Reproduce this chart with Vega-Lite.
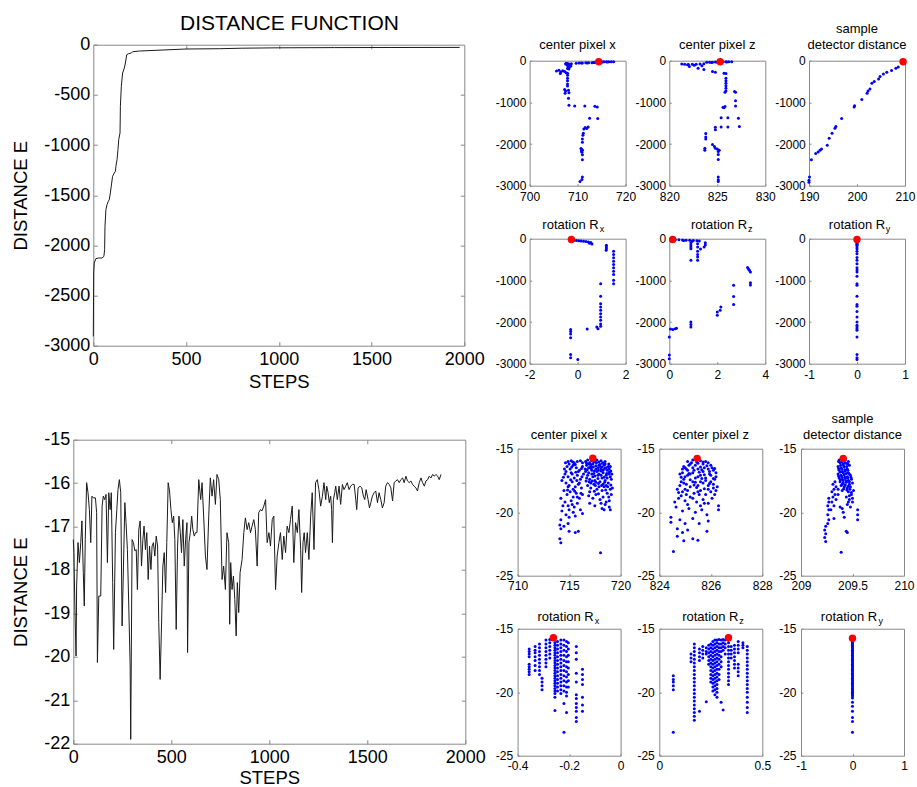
{
"$schema": "https://vega.github.io/schema/vega-lite/v6.json",
"background": "white",
"padding": {"left": 9.3, "top": 11.7, "right": 2, "bottom": 0},
"concat": [
 {
  "concat": [
   {"width": 1, "height": 1, "view": {"stroke": null}, "data": {"values": []}, "mark": "point", "encoding": {}},
   {
    "width": 371, "height": 301,
    "title": {"text": "DISTANCE FUNCTION", "fontSize": 21, "offset": 1.6, "dx": 10.7},
    "data": {"name": "curve1"},
    "resolve": {"axis": {"x": "independent", "y": "independent"}},
    "layer": [
     {"mark": {"type": "line", "color": "#1a1a1a", "strokeWidth": 1},
      "encoding": {
       "x": {"field": "s", "type": "quantitative", "scale": {"domain": [0, 2000], "nice": false, "zero": false},
         "axis": {"orient": "bottom", "title": "STEPS", "values": [0, 500, 1000, 1500, 2000], "labelExpr": "toString(datum.value)", "labelFontSize": 18, "titleFontSize": 18.5, "tickSize": -4, "labelPadding": 9, "titlePadding": 4}},
       "y": {"field": "e", "type": "quantitative", "scale": {"domain": [-3000, 0], "nice": false, "zero": false},
         "axis": {"orient": "left", "title": "DISTANCE E", "values": [-3000, -2500, -2000, -1500, -1000, -500, 0], "labelExpr": "toString(datum.value)", "labelFontSize": 18, "titleFontSize": 18.5, "tickSize": -4, "labelPadding": 7.5, "titlePadding": 13.5}}
      }},
     {"mark": {"type": "line", "opacity": 0},
      "encoding": {
       "x": {"field": "s", "type": "quantitative", "axis": {"orient": "top", "labels": false, "title": null, "values": [500, 1000, 1500], "tickSize": -4}},
       "y": {"field": "e", "type": "quantitative", "axis": {"orient": "right", "labels": false, "title": null, "values": [-2500, -2000, -1500, -1000, -500], "tickSize": -4}}
      }}
    ]
   },
   {"width": 1, "height": 1, "view": {"stroke": null}, "data": {"values": []}, "mark": "point", "encoding": {}},
   {
    "width": 392, "height": 304,
    "data": {"name": "curve2"},
    "resolve": {"axis": {"x": "independent", "y": "independent"}},
    "layer": [
     {"mark": {"type": "line", "color": "#1a1a1a", "strokeWidth": 1},
      "encoding": {
       "x": {"field": "s", "type": "quantitative", "scale": {"domain": [0, 2000], "nice": false, "zero": false},
         "axis": {"orient": "bottom", "title": "STEPS", "values": [0, 500, 1000, 1500, 2000], "labelExpr": "toString(datum.value)", "labelFontSize": 18, "titleFontSize": 18.5, "tickSize": -4, "labelPadding": 9, "titlePadding": 2}},
       "y": {"field": "e", "type": "quantitative", "scale": {"domain": [-22, -15], "nice": false, "zero": false},
         "axis": {"orient": "left", "title": "DISTANCE E", "values": [-22, -21, -20, -19, -18, -17, -16, -15], "labelExpr": "toString(datum.value)", "labelFontSize": 18, "titleFontSize": 18.5, "tickSize": -4, "labelPadding": 7.5, "titlePadding": 13.5}}
      }},
     {"mark": {"type": "line", "opacity": 0},
      "encoding": {
       "x": {"field": "s", "type": "quantitative", "axis": {"orient": "top", "labels": false, "title": null, "values": [500, 1000, 1500], "tickSize": -4}},
       "y": {"field": "e", "type": "quantitative", "axis": {"orient": "right", "labels": false, "title": null, "values": [-21, -20, -19, -18, -17, -16], "tickSize": -4}}
      }}
    ]
   }
  ],
  "columns": 2, "align": "none", "spacing": {"row": 38, "column": 0}
 },
 {
  "concat": [
   {"width": 1, "height": 1, "view": {"stroke": null}, "data": {"values": []}, "mark": "point", "encoding": {}},
   {
    "vconcat": [
     {
      "hconcat": [
       {"width": 96, "height": 125, "title": {"text": "center pixel x", "offset": 3},
        "layer": [
         {"data": {"name": "T1"}, "mark": {"type": "circle", "size": 9, "color": "#0000ff", "opacity": 1},
          "encoding": {
           "x": {"field": "x", "type": "quantitative", "scale": {"domain": [700, 720], "nice": false, "zero": false}, "axis": {"title": null, "values": [700, 710, 720], "labelExpr": "toString(datum.value)", "labelFontSize": 12, "tickSize": -2, "labelPadding": 7.4}},
           "y": {"field": "y", "type": "quantitative", "scale": {"domain": [-3000, 0], "nice": false, "zero": false}, "axis": {"title": null, "values": [-3000, -2000, -1000, 0], "labelExpr": "toString(datum.value)", "labelFontSize": 12, "tickSize": -2, "labelPadding": 5.7}}}},
         {"data": {"name": "best"}, "transform": [{"filter": "datum.p == 'T1'"}], "mark": {"type": "circle", "size": 55, "color": "#ff0000", "opacity": 1},
          "encoding": {"x": {"field": "x", "type": "quantitative"}, "y": {"field": "y", "type": "quantitative"}}}
        ]},
       {"width": 96, "height": 125, "title": {"text": "center pixel z", "offset": 3},
        "layer": [
         {"data": {"name": "T2"}, "mark": {"type": "circle", "size": 9, "color": "#0000ff", "opacity": 1},
          "encoding": {
           "x": {"field": "x", "type": "quantitative", "scale": {"domain": [820, 830], "nice": false, "zero": false}, "axis": {"title": null, "values": [820, 825, 830], "labelExpr": "toString(datum.value)", "labelFontSize": 12, "tickSize": -2, "labelPadding": 7.4}},
           "y": {"field": "y", "type": "quantitative", "scale": {"domain": [-3000, 0], "nice": false, "zero": false}, "axis": {"title": null, "values": [-3000, -2000, -1000, 0], "labelExpr": "toString(datum.value)", "labelFontSize": 12, "tickSize": -2, "labelPadding": 5.7}}}},
         {"data": {"name": "best"}, "transform": [{"filter": "datum.p == 'T2'"}], "mark": {"type": "circle", "size": 55, "color": "#ff0000", "opacity": 1},
          "encoding": {"x": {"field": "x", "type": "quantitative"}, "y": {"field": "y", "type": "quantitative"}}}
        ]},
       {"width": 96, "height": 125, "title": {"text": ["sample", "detector distance"], "offset": 3, "lineHeight": 16},
        "layer": [
         {"data": {"name": "T3"}, "mark": {"type": "circle", "size": 9, "color": "#0000ff", "opacity": 1},
          "encoding": {
           "x": {"field": "x", "type": "quantitative", "scale": {"domain": [190, 210], "nice": false, "zero": false}, "axis": {"title": null, "values": [190, 200, 210], "labelExpr": "toString(datum.value)", "labelFontSize": 12, "tickSize": -2, "labelPadding": 7.4}},
           "y": {"field": "y", "type": "quantitative", "scale": {"domain": [-3000, 0], "nice": false, "zero": false}, "axis": {"title": null, "values": [-3000, -2000, -1000, 0], "labelExpr": "toString(datum.value)", "labelFontSize": 12, "tickSize": -2, "labelPadding": 5.7}}}},
         {"data": {"name": "best"}, "transform": [{"filter": "datum.p == 'T3'"}], "mark": {"type": "circle", "size": 55, "color": "#ff0000", "opacity": 1},
          "encoding": {"x": {"field": "x", "type": "quantitative"}, "y": {"field": "y", "type": "quantitative"}}}
        ]}
      ],
      "spacing": 43.7, "bounds": "flush"
     },
     {
      "hconcat": [
       {"width": 96, "height": 125, "title": {"text": "rotation R", "offset": -7, "dx": -7.1},
        "layer": [
         {"data": {"name": "T4"}, "mark": {"type": "circle", "size": 9, "color": "#0000ff", "opacity": 1},
          "encoding": {
           "x": {"field": "x", "type": "quantitative", "scale": {"domain": [-2, 2], "nice": false, "zero": false}, "axis": {"title": null, "values": [-2, 0, 2], "labelExpr": "toString(datum.value)", "labelFontSize": 12, "tickSize": -2, "labelPadding": 7.4}},
           "y": {"field": "y", "type": "quantitative", "scale": {"domain": [-3000, 0], "nice": false, "zero": false}, "axis": {"title": "x", "titleFontSize": 9, "titleFontWeight": "normal", "titleAngle": 0, "titleAlign": "left", "titleBaseline": "alphabetic", "titleX": 69.6, "titleY": -7, "values": [-3000, -2000, -1000, 0], "labelExpr": "toString(datum.value)", "labelFontSize": 12, "tickSize": -2, "labelPadding": 5.7}}}},
         {"data": {"name": "best"}, "transform": [{"filter": "datum.p == 'T4'"}], "mark": {"type": "circle", "size": 55, "color": "#ff0000", "opacity": 1},
          "encoding": {"x": {"field": "x", "type": "quantitative"}, "y": {"field": "y", "type": "quantitative"}}}
        ]},
       {"width": 96, "height": 125, "title": {"text": "rotation R", "offset": -7, "dx": 1.8},
        "layer": [
         {"data": {"name": "T5"}, "mark": {"type": "circle", "size": 9, "color": "#0000ff", "opacity": 1},
          "encoding": {
           "x": {"field": "x", "type": "quantitative", "scale": {"domain": [0, 4], "nice": false, "zero": false}, "axis": {"title": null, "values": [0, 2, 4], "labelExpr": "toString(datum.value)", "labelFontSize": 12, "tickSize": -2, "labelPadding": 7.4}},
           "y": {"field": "y", "type": "quantitative", "scale": {"domain": [-3000, 0], "nice": false, "zero": false}, "axis": {"title": "z", "titleFontSize": 9, "titleFontWeight": "normal", "titleAngle": 0, "titleAlign": "left", "titleBaseline": "alphabetic", "titleX": 78.3, "titleY": -7, "values": [-3000, -2000, -1000, 0], "labelExpr": "toString(datum.value)", "labelFontSize": 12, "tickSize": -2, "labelPadding": 5.7}}}},
         {"data": {"name": "best"}, "transform": [{"filter": "datum.p == 'T5'"}], "mark": {"type": "circle", "size": 55, "color": "#ff0000", "opacity": 1},
          "encoding": {"x": {"field": "x", "type": "quantitative"}, "y": {"field": "y", "type": "quantitative"}}}
        ]},
       {"width": 96, "height": 125, "title": {"text": "rotation R", "offset": -7, "dx": 0},
        "layer": [
         {"data": {"name": "T6"}, "mark": {"type": "circle", "size": 9, "color": "#0000ff", "opacity": 1},
          "encoding": {
           "x": {"field": "x", "type": "quantitative", "scale": {"domain": [-1, 1], "nice": false, "zero": false}, "axis": {"title": null, "values": [-1, 0, 1], "labelExpr": "toString(datum.value)", "labelFontSize": 12, "tickSize": -2, "labelPadding": 7.4}},
           "y": {"field": "y", "type": "quantitative", "scale": {"domain": [-3000, 0], "nice": false, "zero": false}, "axis": {"title": "y", "titleFontSize": 9, "titleFontWeight": "normal", "titleAngle": 0, "titleAlign": "left", "titleBaseline": "alphabetic", "titleX": 76.2, "titleY": -7, "values": [-3000, -2000, -1000, 0], "labelExpr": "toString(datum.value)", "labelFontSize": 12, "tickSize": -2, "labelPadding": 5.7}}}},
         {"data": {"name": "best"}, "transform": [{"filter": "datum.p == 'T6'"}], "mark": {"type": "circle", "size": 55, "color": "#ff0000", "opacity": 1},
          "encoding": {"x": {"field": "x", "type": "quantitative"}, "y": {"field": "y", "type": "quantitative"}}}
        ]}
      ],
      "spacing": 43.7, "bounds": "flush"
     }
    ],
    "spacing": 15
   },
   {"width": 1, "height": 1, "view": {"stroke": null}, "data": {"values": []}, "mark": "point", "encoding": {}},
   {
    "vconcat": [
     {
      "hconcat": [
       {"width": 103, "height": 127, "title": {"text": "center pixel x", "offset": 1},
        "layer": [
         {"data": {"name": "B1"}, "mark": {"type": "circle", "size": 9, "color": "#0000ff", "opacity": 1},
          "encoding": {
           "x": {"field": "x", "type": "quantitative", "scale": {"domain": [710, 720], "nice": false, "zero": false}, "axis": {"title": null, "values": [710, 715, 720], "labelExpr": "toString(datum.value)", "labelFontSize": 12, "tickSize": -2, "labelPadding": 6.5}},
           "y": {"field": "y", "type": "quantitative", "scale": {"domain": [-25, -15], "nice": false, "zero": false}, "axis": {"title": null, "values": [-25, -20, -15], "labelExpr": "toString(datum.value)", "labelFontSize": 12, "tickSize": -2, "labelPadding": 7}}}},
         {"data": {"name": "best"}, "transform": [{"filter": "datum.p == 'B1'"}], "mark": {"type": "circle", "size": 55, "color": "#ff0000", "opacity": 1},
          "encoding": {"x": {"field": "x", "type": "quantitative"}, "y": {"field": "y", "type": "quantitative"}}}
        ]},
       {"width": 103, "height": 127, "title": {"text": "center pixel z", "offset": 1},
        "layer": [
         {"data": {"name": "B2"}, "mark": {"type": "circle", "size": 9, "color": "#0000ff", "opacity": 1},
          "encoding": {
           "x": {"field": "x", "type": "quantitative", "scale": {"domain": [824, 828], "nice": false, "zero": false}, "axis": {"title": null, "values": [824, 826, 828], "labelExpr": "toString(datum.value)", "labelFontSize": 12, "tickSize": -2, "labelPadding": 6.5}},
           "y": {"field": "y", "type": "quantitative", "scale": {"domain": [-25, -15], "nice": false, "zero": false}, "axis": {"title": null, "values": [-25, -20, -15], "labelExpr": "toString(datum.value)", "labelFontSize": 12, "tickSize": -2, "labelPadding": 7}}}},
         {"data": {"name": "best"}, "transform": [{"filter": "datum.p == 'B2'"}], "mark": {"type": "circle", "size": 55, "color": "#ff0000", "opacity": 1},
          "encoding": {"x": {"field": "x", "type": "quantitative"}, "y": {"field": "y", "type": "quantitative"}}}
        ]},
       {"width": 103, "height": 127, "title": {"text": ["sample", "detector distance"], "offset": 1, "lineHeight": 16},
        "layer": [
         {"data": {"name": "B3"}, "mark": {"type": "circle", "size": 9, "color": "#0000ff", "opacity": 1},
          "encoding": {
           "x": {"field": "x", "type": "quantitative", "scale": {"domain": [209, 210], "nice": false, "zero": false}, "axis": {"title": null, "values": [209, 209.5, 210], "labelExpr": "toString(datum.value)", "labelFontSize": 12, "tickSize": -2, "labelPadding": 6.5}},
           "y": {"field": "y", "type": "quantitative", "scale": {"domain": [-25, -15], "nice": false, "zero": false}, "axis": {"title": null, "values": [-25, -20, -15], "labelExpr": "toString(datum.value)", "labelFontSize": 12, "tickSize": -2, "labelPadding": 7}}}},
         {"data": {"name": "best"}, "transform": [{"filter": "datum.p == 'B3'"}], "mark": {"type": "circle", "size": 55, "color": "#ff0000", "opacity": 1},
          "encoding": {"x": {"field": "x", "type": "quantitative"}, "y": {"field": "y", "type": "quantitative"}}}
        ]}
      ],
      "spacing": 38.7, "bounds": "flush"
     },
     {
      "hconcat": [
       {"width": 103, "height": 127, "title": {"text": "rotation R", "offset": -7.3, "dx": -3.5},
        "layer": [
         {"data": {"name": "B4"}, "mark": {"type": "circle", "size": 9, "color": "#0000ff", "opacity": 1},
          "encoding": {
           "x": {"field": "x", "type": "quantitative", "scale": {"domain": [-0.4, 0], "nice": false, "zero": false}, "axis": {"title": null, "values": [-0.4, -0.2, 0], "labelExpr": "toString(datum.value)", "labelFontSize": 12, "tickSize": -2, "labelPadding": 6.5}},
           "y": {"field": "y", "type": "quantitative", "scale": {"domain": [-25, -15], "nice": false, "zero": false}, "axis": {"title": "x", "titleFontSize": 9, "titleFontWeight": "normal", "titleAngle": 0, "titleAlign": "left", "titleBaseline": "alphabetic", "titleX": 76.7, "titleY": -5, "values": [-25, -20, -15], "labelExpr": "toString(datum.value)", "labelFontSize": 12, "tickSize": -2, "labelPadding": 7}}}},
         {"data": {"name": "best"}, "transform": [{"filter": "datum.p == 'B4'"}], "mark": {"type": "circle", "size": 55, "color": "#ff0000", "opacity": 1},
          "encoding": {"x": {"field": "x", "type": "quantitative"}, "y": {"field": "y", "type": "quantitative"}}}
        ]},
       {"width": 103, "height": 127, "title": {"text": "rotation R", "offset": -7.3, "dx": -0.5},
        "layer": [
         {"data": {"name": "B5"}, "mark": {"type": "circle", "size": 9, "color": "#0000ff", "opacity": 1},
          "encoding": {
           "x": {"field": "x", "type": "quantitative", "scale": {"domain": [0, 0.5], "nice": false, "zero": false}, "axis": {"title": null, "values": [0, 0.5], "labelExpr": "toString(datum.value)", "labelFontSize": 12, "tickSize": -2, "labelPadding": 6.5}},
           "y": {"field": "y", "type": "quantitative", "scale": {"domain": [-25, -15], "nice": false, "zero": false}, "axis": {"title": "z", "titleFontSize": 9, "titleFontWeight": "normal", "titleAngle": 0, "titleAlign": "left", "titleBaseline": "alphabetic", "titleX": 79.5, "titleY": -5, "values": [-25, -20, -15], "labelExpr": "toString(datum.value)", "labelFontSize": 12, "tickSize": -2, "labelPadding": 7}}}},
         {"data": {"name": "best"}, "transform": [{"filter": "datum.p == 'B5'"}], "mark": {"type": "circle", "size": 55, "color": "#ff0000", "opacity": 1},
          "encoding": {"x": {"field": "x", "type": "quantitative"}, "y": {"field": "y", "type": "quantitative"}}}
        ]},
       {"width": 103, "height": 127, "title": {"text": "rotation R", "offset": -7.3, "dx": -3.5},
        "layer": [
         {"data": {"name": "B6"}, "mark": {"type": "circle", "size": 9, "color": "#0000ff", "opacity": 1},
          "encoding": {
           "x": {"field": "x", "type": "quantitative", "scale": {"domain": [-1, 1], "nice": false, "zero": false}, "axis": {"title": null, "values": [-1, 0, 1], "labelExpr": "toString(datum.value)", "labelFontSize": 12, "tickSize": -2, "labelPadding": 6.5}},
           "y": {"field": "y", "type": "quantitative", "scale": {"domain": [-25, -15], "nice": false, "zero": false}, "axis": {"title": "y", "titleFontSize": 9, "titleFontWeight": "normal", "titleAngle": 0, "titleAlign": "left", "titleBaseline": "alphabetic", "titleX": 76.9, "titleY": -5, "values": [-25, -20, -15], "labelExpr": "toString(datum.value)", "labelFontSize": 12, "tickSize": -2, "labelPadding": 7}}}},
         {"data": {"name": "best"}, "transform": [{"filter": "datum.p == 'B6'"}], "mark": {"type": "circle", "size": 55, "color": "#ff0000", "opacity": 1},
          "encoding": {"x": {"field": "x", "type": "quantitative"}, "y": {"field": "y", "type": "quantitative"}}}
        ]}
      ],
      "spacing": 38.7, "bounds": "flush"
     }
    ],
    "spacing": 18
   }
  ],
  "columns": 2, "align": "none", "spacing": {"row": 31, "column": 0}
 }
],
"columns": 2,
"center": true,
"spacing": 7.3,
"datasets": {
 "curve1": [{"s":0,"e":-2907},{"s":2,"e":-2276},{"s":5,"e":-2176},{"s":14,"e":-2133},{"s":29,"e":-2126},{"s":47,"e":-2126},{"s":57,"e":-2110},{"s":61,"e":-2043},{"s":63,"e":-1810},{"s":68,"e":-1644},{"s":74,"e":-1594},{"s":81,"e":-1561},{"s":86,"e":-1545},{"s":92,"e":-1478},{"s":99,"e":-1379},{"s":104,"e":-1312},{"s":113,"e":-1279},{"s":119,"e":-1262},{"s":122,"e":-1212},{"s":128,"e":-1146},{"s":133,"e":-1046},{"s":137,"e":-947},{"s":144,"e":-880},{"s":146,"e":-615},{"s":151,"e":-415},{"s":158,"e":-282},{"s":167,"e":-233},{"s":173,"e":-183},{"s":180,"e":-100},{"s":190,"e":-90},{"s":205,"e":-83},{"s":212,"e":-70},{"s":248,"e":-63},{"s":338,"e":-56},{"s":500,"e":-43},{"s":679,"e":-40},{"s":800,"e":-35},{"s":1000,"e":-31},{"s":1300,"e":-29},{"s":1600,"e":-28},{"s":1975,"e":-27}],
 "curve2": [{"s":0,"e":-17.3},{"s":3,"e":-17.6},{"s":8,"e":-18.83},{"s":14,"e":-19.98},{"s":17,"e":-18.37},{"s":24,"e":-17.37},{"s":31,"e":-17.83},{"s":38,"e":-17.37},{"s":44,"e":-16.87},{"s":51,"e":-18.06},{"s":56,"e":-18.83},{"s":61,"e":-17.3},{"s":68,"e":-15.99},{"s":75,"e":-16.22},{"s":82,"e":-16.61},{"s":89,"e":-17.37},{"s":95,"e":-16.3},{"s":102,"e":-16.34},{"s":113,"e":-16.34},{"s":119,"e":-16.68},{"s":123,"e":-20.13},{"s":130,"e":-18.6},{"s":140,"e":-18.6},{"s":147,"e":-16.53},{"s":153,"e":-16.3},{"s":160,"e":-16.38},{"s":167,"e":-16.26},{"s":174,"e":-17.83},{"s":181,"e":-16.22},{"s":188,"e":-16.61},{"s":194,"e":-16.22},{"s":201,"e":-18.29},{"s":206,"e":-19.83},{"s":215,"e":-17.14},{"s":222,"e":-16.61},{"s":228,"e":-16.15},{"s":235,"e":-15.92},{"s":242,"e":-16.22},{"s":249,"e":-19.29},{"s":256,"e":-17.91},{"s":263,"e":-16.45},{"s":269,"e":-16.91},{"s":276,"e":-17.53},{"s":283,"e":-18.83},{"s":290,"e":-20.21},{"s":293,"e":-21.9},{"s":300,"e":-17.3},{"s":307,"e":-17.37},{"s":314,"e":-17.56},{"s":321,"e":-17.53},{"s":327,"e":-18.45},{"s":334,"e":-17.07},{"s":341,"e":-16.87},{"s":348,"e":-17.91},{"s":355,"e":-17.3},{"s":361,"e":-16.99},{"s":368,"e":-17.53},{"s":375,"e":-17.14},{"s":382,"e":-18.22},{"s":389,"e":-17.45},{"s":396,"e":-17.99},{"s":402,"e":-17.45},{"s":409,"e":-17.37},{"s":416,"e":-17.68},{"s":423,"e":-17.22},{"s":430,"e":-17.45},{"s":436,"e":-19.21},{"s":443,"e":-20.52},{"s":450,"e":-19.29},{"s":457,"e":-17.91},{"s":464,"e":-17.6},{"s":471,"e":-18.52},{"s":477,"e":-17.37},{"s":484,"e":-15.99},{"s":491,"e":-16.18},{"s":498,"e":-16.61},{"s":505,"e":-16.91},{"s":512,"e":-16.76},{"s":518,"e":-17.3},{"s":525,"e":-19.37},{"s":532,"e":-17.45},{"s":539,"e":-16.76},{"s":546,"e":-17.14},{"s":552,"e":-17.6},{"s":559,"e":-16.84},{"s":566,"e":-17.91},{"s":573,"e":-17.3},{"s":580,"e":-16.91},{"s":583,"e":-19.9},{"s":590,"e":-17.37},{"s":597,"e":-17.14},{"s":604,"e":-16.76},{"s":610,"e":-17.07},{"s":617,"e":-17.22},{"s":624,"e":-17.14},{"s":631,"e":-17.14},{"s":640,"e":-15.92},{"s":650,"e":-16.38},{"s":657,"e":-15.99},{"s":665,"e":-16.76},{"s":674,"e":-17.68},{"s":682,"e":-17.99},{"s":691,"e":-16.76},{"s":699,"e":-15.88},{"s":708,"e":-16.3},{"s":716,"e":-15.92},{"s":725,"e":-16.49},{"s":733,"e":-15.8},{"s":742,"e":-15.92},{"s":750,"e":-16.38},{"s":759,"e":-18.22},{"s":767,"e":-17.91},{"s":776,"e":-18.45},{"s":784,"e":-17.14},{"s":793,"e":-17.37},{"s":798,"e":-19.25},{"s":803,"e":-17.83},{"s":810,"e":-18.45},{"s":817,"e":-18.14},{"s":824,"e":-18.68},{"s":831,"e":-19.52},{"s":837,"e":-18.29},{"s":844,"e":-18.98},{"s":851,"e":-18.06},{"s":861,"e":-17.76},{"s":870,"e":-17.14},{"s":878,"e":-16.8},{"s":887,"e":-17.07},{"s":895,"e":-16.91},{"s":904,"e":-17.14},{"s":912,"e":-16.99},{"s":921,"e":-16.84},{"s":929,"e":-17.07},{"s":938,"e":-17.91},{"s":946,"e":-16.68},{"s":955,"e":-16.61},{"s":963,"e":-16.64},{"s":972,"e":-16.53},{"s":981,"e":-16.38},{"s":989,"e":-17.37},{"s":998,"e":-17.14},{"s":1006,"e":-17.45},{"s":1015,"e":-16.84},{"s":1023,"e":-16.76},{"s":1032,"e":-18.45},{"s":1040,"e":-17.68},{"s":1049,"e":-17.37},{"s":1057,"e":-17.14},{"s":1066,"e":-17.76},{"s":1074,"e":-17.22},{"s":1083,"e":-17.6},{"s":1091,"e":-16.99},{"s":1100,"e":-17.14},{"s":1108,"e":-16.84},{"s":1117,"e":-16.53},{"s":1125,"e":-17.83},{"s":1134,"e":-16.91},{"s":1143,"e":-17.14},{"s":1151,"e":-16.61},{"s":1160,"e":-17.53},{"s":1165,"e":-18.52},{"s":1172,"e":-17.37},{"s":1178,"e":-17.14},{"s":1185,"e":-17.6},{"s":1194,"e":-17.14},{"s":1202,"e":-17.76},{"s":1211,"e":-16.76},{"s":1219,"e":-16.22},{"s":1228,"e":-17.53},{"s":1236,"e":-15.99},{"s":1245,"e":-15.92},{"s":1253,"e":-16.15},{"s":1262,"e":-16.53},{"s":1271,"e":-16.3},{"s":1279,"e":-15.99},{"s":1288,"e":-16.38},{"s":1293,"e":-16.07},{"s":1300,"e":-16.22},{"s":1306,"e":-16.45},{"s":1313,"e":-16.3},{"s":1318,"e":-16.61},{"s":1322,"e":-17.37},{"s":1327,"e":-16.38},{"s":1334,"e":-16.22},{"s":1339,"e":-16.07},{"s":1347,"e":-16.38},{"s":1356,"e":-16.07},{"s":1364,"e":-16.49},{"s":1373,"e":-16.03},{"s":1381,"e":-16.15},{"s":1390,"e":-16.07},{"s":1398,"e":-15.99},{"s":1407,"e":-16.15},{"s":1415,"e":-16.07},{"s":1424,"e":-16.03},{"s":1433,"e":-16.03},{"s":1441,"e":-16.38},{"s":1446,"e":-16.61},{"s":1453,"e":-16.11},{"s":1463,"e":-16.07},{"s":1472,"e":-16.11},{"s":1480,"e":-16.3},{"s":1487,"e":-16.38},{"s":1494,"e":-16.15},{"s":1504,"e":-16.38},{"s":1511,"e":-16.57},{"s":1518,"e":-16.45},{"s":1526,"e":-16.3},{"s":1535,"e":-16.22},{"s":1543,"e":-16.18},{"s":1552,"e":-16.45},{"s":1560,"e":-16.22},{"s":1569,"e":-16.38},{"s":1577,"e":-16.57},{"s":1586,"e":-16.45},{"s":1594,"e":-16.07},{"s":1603,"e":-15.99},{"s":1612,"e":-16.03},{"s":1620,"e":-16.11},{"s":1629,"e":-16.41},{"s":1637,"e":-15.99},{"s":1646,"e":-15.95},{"s":1654,"e":-15.92},{"s":1663,"e":-15.99},{"s":1671,"e":-15.92},{"s":1680,"e":-15.88},{"s":1688,"e":-15.99},{"s":1697,"e":-15.84},{"s":1705,"e":-15.95},{"s":1714,"e":-15.99},{"s":1722,"e":-15.95},{"s":1731,"e":-16.03},{"s":1739,"e":-16.07},{"s":1748,"e":-16.11},{"s":1756,"e":-16.18},{"s":1765,"e":-15.99},{"s":1774,"e":-15.88},{"s":1782,"e":-15.99},{"s":1791,"e":-16.07},{"s":1799,"e":-15.95},{"s":1808,"e":-15.92},{"s":1816,"e":-15.84},{"s":1825,"e":-15.88},{"s":1833,"e":-15.8},{"s":1842,"e":-15.84},{"s":1850,"e":-15.8},{"s":1859,"e":-15.84},{"s":1867,"e":-15.92},{"s":1876,"e":-15.8}],
 "T1": [{"x":709.7,"y":-60},{"x":710.3,"y":-58},{"x":711,"y":-55},{"x":711.7,"y":-52},{"x":712.3,"y":-50},{"x":713,"y":-47},{"x":713.6,"y":-42},{"x":714.2,"y":-35},{"x":715,"y":-30},{"x":715.5,"y":-28},{"x":716,"y":-27},{"x":716.5,"y":-26},{"x":717,"y":-25},{"x":717.5,"y":-24},{"x":716.2,"y":-30},{"x":715.2,"y":-33},{"x":713.3,"y":-45},{"x":712,"y":-53},{"x":710.8,"y":-57},{"x":707.6,"y":-60},{"x":707.9,"y":-70},{"x":708.2,"y":-80},{"x":708.5,"y":-90},{"x":708.7,"y":-75},{"x":707.8,"y":-100},{"x":708.1,"y":-120},{"x":708.4,"y":-110},{"x":708,"y":-140},{"x":708.3,"y":-150},{"x":708.1,"y":-170},{"x":708.2,"y":-200},{"x":707.9,"y":-190},{"x":708.6,"y":-130},{"x":707.5,"y":-80},{"x":705.6,"y":-250},{"x":706.1,"y":-230},{"x":706.5,"y":-270},{"x":706.9,"y":-240},{"x":707.3,"y":-260},{"x":707.6,"y":-290},{"x":706.4,"y":-310},{"x":707.9,"y":-300},{"x":707.9,"y":-350},{"x":707.9,"y":-420},{"x":707.9,"y":-480},{"x":707.9,"y":-560},{"x":707.9,"y":-610},{"x":707.3,"y":-690},{"x":707.5,"y":-730},{"x":707.4,"y":-780},{"x":708.1,"y":-710},{"x":708.2,"y":-770},{"x":708.1,"y":-900},{"x":708.2,"y":-1070},{"x":709.4,"y":-1085},{"x":711.5,"y":-1090},{"x":713.6,"y":-1095},{"x":714.1,"y":-1110},{"x":712.5,"y":-1380},{"x":714.2,"y":-1385},{"x":712.2,"y":-1590},{"x":711.6,"y":-1605},{"x":711.9,"y":-1625},{"x":711.3,"y":-1640},{"x":711.2,"y":-1740},{"x":711.1,"y":-1790},{"x":711,"y":-1880},{"x":711,"y":-1960},{"x":710.7,"y":-2110},{"x":710.9,"y":-2130},{"x":711,"y":-2150},{"x":710.8,"y":-2170},{"x":710.9,"y":-2200},{"x":711,"y":-2260},{"x":711,"y":-2380},{"x":711,"y":-2790},{"x":710.9,"y":-2850},{"x":710.5,"y":-2900}],
 "T2": [{"x":823.9,"y":-40},{"x":824.2,"y":-38},{"x":824.5,"y":-35},{"x":824.8,"y":-32},{"x":825.1,"y":-30},{"x":825.6,"y":-28},{"x":825.9,"y":-27},{"x":826.2,"y":-27},{"x":826.5,"y":-26},{"x":825,"y":-35},{"x":824.4,"y":-45},{"x":826,"y":-33},{"x":821.3,"y":-80},{"x":821.6,"y":-85},{"x":822,"y":-90},{"x":822.4,"y":-88},{"x":822.8,"y":-85},{"x":823.2,"y":-80},{"x":823.6,"y":-75},{"x":821.9,"y":-100},{"x":822.6,"y":-110},{"x":823.4,"y":-120},{"x":822.1,"y":-140},{"x":823,"y":-180},{"x":823.6,"y":-210},{"x":824.5,"y":-260},{"x":824.8,"y":-280},{"x":825.7,"y":-300},{"x":825.9,"y":-310},{"x":825.9,"y":-420},{"x":825.9,"y":-480},{"x":825.9,"y":-540},{"x":825.9,"y":-600},{"x":825.9,"y":-660},{"x":825.9,"y":-720},{"x":825.8,"y":-760},{"x":826.8,"y":-740},{"x":826.9,"y":-760},{"x":826.9,"y":-960},{"x":826.9,"y":-1090},{"x":825.6,"y":-1120},{"x":825.8,"y":-1100},{"x":825.7,"y":-1130},{"x":825.4,"y":-1370},{"x":826.1,"y":-1370},{"x":827.2,"y":-1380},{"x":827.3,"y":-1580},{"x":825.4,"y":-1590},{"x":826.1,"y":-1590},{"x":824.8,"y":-1600},{"x":824.8,"y":-1660},{"x":823.8,"y":-1750},{"x":823.8,"y":-1830},{"x":823.8,"y":-1880},{"x":823.7,"y":-2100},{"x":823.7,"y":-2150},{"x":824.5,"y":-2010},{"x":824.7,"y":-2060},{"x":824.8,"y":-2100},{"x":825,"y":-2120},{"x":825.2,"y":-2150},{"x":825.1,"y":-2180},{"x":825.1,"y":-2250},{"x":825.1,"y":-2370},{"x":825.1,"y":-2790},{"x":825.1,"y":-2860},{"x":825.1,"y":-2900}],
 "T3": [{"x":208.6,"y":-150},{"x":208.1,"y":-180},{"x":207.2,"y":-235},{"x":206.2,"y":-280},{"x":205.5,"y":-320},{"x":204.8,"y":-380},{"x":204.5,"y":-440},{"x":203.6,"y":-500},{"x":203.1,"y":-540},{"x":202.7,"y":-680},{"x":202.3,"y":-730},{"x":202.1,"y":-780},{"x":201,"y":-930},{"x":199.5,"y":-1080},{"x":199.4,"y":-1110},{"x":196.8,"y":-1390},{"x":195.6,"y":-1580},{"x":195.4,"y":-1620},{"x":194.8,"y":-1740},{"x":194.2,"y":-1860},{"x":193.8,"y":-2030},{"x":192.6,"y":-2120},{"x":192.3,"y":-2150},{"x":191.9,"y":-2190},{"x":191.4,"y":-2230},{"x":190.5,"y":-2380},{"x":190.1,"y":-2790},{"x":190,"y":-2870},{"x":190,"y":-2920}],
 "T4": [{"x":-0.15,"y":-40},{"x":-0.05,"y":-45},{"x":0.05,"y":-50},{"x":0.15,"y":-55},{"x":0.25,"y":-60},{"x":0.35,"y":-70},{"x":0.45,"y":-80},{"x":0.55,"y":-90},{"x":0.6,"y":-130},{"x":0.5,"y":-110},{"x":1.2,"y":-160},{"x":1.2,"y":-200},{"x":1.2,"y":-240},{"x":1.19,"y":-280},{"x":1.5,"y":-300},{"x":1.5,"y":-380},{"x":1.5,"y":-460},{"x":1.5,"y":-540},{"x":1.5,"y":-620},{"x":1.5,"y":-700},{"x":1.5,"y":-780},{"x":1.5,"y":-860},{"x":1.5,"y":-1000},{"x":1.5,"y":-1080},{"x":0.96,"y":-1080},{"x":0.96,"y":-1380},{"x":0.96,"y":-1560},{"x":0.96,"y":-1640},{"x":0.96,"y":-1720},{"x":0.96,"y":-1800},{"x":0.96,"y":-1880},{"x":0.96,"y":-1960},{"x":0.96,"y":-2050},{"x":0.96,"y":-2100},{"x":0.8,"y":-2120},{"x":0.85,"y":-2160},{"x":0.4,"y":-2170},{"x":-0.29,"y":-2180},{"x":-0.29,"y":-2230},{"x":-0.29,"y":-2290},{"x":-0.29,"y":-2380},{"x":-0.29,"y":-2780},{"x":-0.29,"y":-2860},{"x":0.01,"y":-2900}],
 "T5": [{"x":0.25,"y":-25},{"x":0.4,"y":-28},{"x":0.55,"y":-30},{"x":0.7,"y":-35},{"x":0.85,"y":-40},{"x":1,"y":-45},{"x":1.15,"y":-50},{"x":1.25,"y":-55},{"x":0.95,"y":-60},{"x":0.6,"y":-45},{"x":0.9,"y":-100},{"x":0.9,"y":-150},{"x":0.9,"y":-200},{"x":0.9,"y":-240},{"x":0.9,"y":-520},{"x":1.18,"y":-120},{"x":1.18,"y":-200},{"x":1.18,"y":-300},{"x":1.18,"y":-380},{"x":1.18,"y":-440},{"x":1.18,"y":-520},{"x":1.3,"y":-250},{"x":1.45,"y":-200},{"x":1.5,"y":-100},{"x":1.5,"y":-150},{"x":2.68,"y":-1120},{"x":2.68,"y":-1390},{"x":2.68,"y":-1580},{"x":2.15,"y":-1640},{"x":2.12,"y":-1720},{"x":2,"y":-1760},{"x":2,"y":-1840},{"x":3.26,"y":-690},{"x":3.3,"y":-730},{"x":3.34,"y":-760},{"x":3.38,"y":-800},{"x":3.38,"y":-1060},{"x":3.38,"y":-1110},{"x":0.9,"y":-2000},{"x":0.9,"y":-2060},{"x":0.9,"y":-2120},{"x":0.05,"y":-2170},{"x":0.15,"y":-2180},{"x":0.25,"y":-2160},{"x":0.3,"y":-2150},{"x":0,"y":-2360},{"x":0,"y":-2790},{"x":0,"y":-2880}],
 "T6": [{"x":0,"y":-40},{"x":0,"y":-60},{"x":0,"y":-80},{"x":0,"y":-100},{"x":0,"y":-120},{"x":0,"y":-140},{"x":0,"y":-160},{"x":0,"y":-200},{"x":0,"y":-240},{"x":0,"y":-300},{"x":0,"y":-360},{"x":0,"y":-450},{"x":0,"y":-520},{"x":0,"y":-600},{"x":0,"y":-700},{"x":0,"y":-750},{"x":0,"y":-800},{"x":0,"y":-900},{"x":0,"y":-1080},{"x":0,"y":-1120},{"x":0,"y":-1380},{"x":0,"y":-1580},{"x":0,"y":-1620},{"x":0,"y":-1750},{"x":0,"y":-1880},{"x":0,"y":-2000},{"x":0,"y":-2080},{"x":0,"y":-2120},{"x":0,"y":-2160},{"x":0,"y":-2200},{"x":0,"y":-2360},{"x":0,"y":-2780},{"x":0,"y":-2860},{"x":0,"y":-2900}],
 "B1": [{"x":716.6,"y":-16.0},{"x":716.8,"y":-15.9},{"x":717.0,"y":-16.1},{"x":717.2,"y":-15.95},{"x":717.5,"y":-16.0},{"x":717.7,"y":-15.9},{"x":717.9,"y":-16.05},{"x":718.1,"y":-15.95},{"x":718.3,"y":-16.1},{"x":718.5,"y":-16.0},{"x":716.7,"y":-16.3},{"x":716.9,"y":-16.5},{"x":717.1,"y":-16.4},{"x":717.3,"y":-16.2},{"x":717.6,"y":-16.35},{"x":717.8,"y":-16.5},{"x":718.0,"y":-16.25},{"x":718.2,"y":-16.45},{"x":718.4,"y":-16.3},{"x":718.6,"y":-16.5},{"x":718.8,"y":-16.4},{"x":716.6,"y":-16.8},{"x":716.9,"y":-16.9},{"x":717.2,"y":-16.7},{"x":717.4,"y":-16.95},{"x":717.7,"y":-16.8},{"x":717.9,"y":-17.0},{"x":718.1,"y":-16.75},{"x":718.3,"y":-16.9},{"x":718.6,"y":-17.1},{"x":718.9,"y":-16.85},{"x":719.0,"y":-17.2},{"x":716.7,"y":-17.3},{"x":717.0,"y":-17.4},{"x":717.3,"y":-17.2},{"x":717.5,"y":-17.5},{"x":717.8,"y":-17.35},{"x":718.0,"y":-17.6},{"x":718.2,"y":-17.3},{"x":718.5,"y":-17.5},{"x":718.8,"y":-17.7},{"x":719.1,"y":-17.4},{"x":716.8,"y":-17.9},{"x":717.1,"y":-18.1},{"x":717.4,"y":-17.8},{"x":717.7,"y":-18.2},{"x":717.9,"y":-18.0},{"x":718.2,"y":-18.3},{"x":718.4,"y":-18.0},{"x":718.7,"y":-18.5},{"x":719.0,"y":-18.2},{"x":719.2,"y":-18.1},{"x":716.9,"y":-18.7},{"x":717.3,"y":-18.9},{"x":717.6,"y":-18.6},{"x":718.0,"y":-19.0},{"x":718.3,"y":-18.8},{"x":718.6,"y":-19.2},{"x":718.9,"y":-19.1},{"x":717.5,"y":-19.5},{"x":718.2,"y":-19.7},{"x":718.4,"y":-19.8},{"x":718.9,"y":-19.6},{"x":719.0,"y":-19.8},{"x":717.0,"y":-19.3},{"x":718.05,"y":-23.2},{"x":714.9,"y":-16.0},{"x":715.2,"y":-15.95},{"x":715.5,"y":-16.1},{"x":715.8,"y":-16.0},{"x":716.1,"y":-15.95},{"x":716.3,"y":-16.1},{"x":714.8,"y":-16.4},{"x":715.1,"y":-16.6},{"x":715.4,"y":-16.3},{"x":715.7,"y":-16.5},{"x":716.0,"y":-16.7},{"x":716.3,"y":-16.4},{"x":714.6,"y":-17.0},{"x":714.9,"y":-17.2},{"x":715.2,"y":-16.9},{"x":715.5,"y":-17.3},{"x":715.8,"y":-17.1},{"x":716.1,"y":-17.4},{"x":716.4,"y":-17.0},{"x":714.3,"y":-17.5},{"x":714.7,"y":-17.7},{"x":715.0,"y":-17.9},{"x":715.3,"y":-17.6},{"x":715.6,"y":-18.0},{"x":715.9,"y":-17.8},{"x":716.2,"y":-18.1},{"x":714.5,"y":-18.3},{"x":714.8,"y":-18.6},{"x":715.1,"y":-18.4},{"x":715.4,"y":-18.8},{"x":715.7,"y":-18.5},{"x":716.0,"y":-18.9},{"x":716.3,"y":-18.6},{"x":714.2,"y":-18.9},{"x":714.6,"y":-19.2},{"x":714.9,"y":-19.5},{"x":715.2,"y":-19.1},{"x":715.5,"y":-19.6},{"x":715.8,"y":-19.3},{"x":716.1,"y":-19.8},{"x":714.3,"y":-19.9},{"x":714.7,"y":-20.2},{"x":715.0,"y":-20.4},{"x":715.4,"y":-20.0},{"x":715.6,"y":-20.3},{"x":716.3,"y":-20.1},{"x":714.2,"y":-20.6},{"x":714.1,"y":-21.0},{"x":714.2,"y":-21.3},{"x":714.5,"y":-21.1},{"x":715.0,"y":-21.5},{"x":715.6,"y":-21.6},{"x":715.9,"y":-21.5},{"x":714.1,"y":-22.1},{"x":714.2,"y":-22.4},{"x":714.9,"y":-20.9},{"x":716.7,"y":-16.15},{"x":717.1,"y":-16.25},{"x":717.4,"y":-16.05},{"x":717.6,"y":-16.6},{"x":717.9,"y":-16.3},{"x":718.1,"y":-16.6},{"x":718.3,"y":-16.7},{"x":718.5,"y":-16.2},{"x":718.7,"y":-16.7},{"x":718.9,"y":-16.6},{"x":719.0,"y":-16.4},{"x":716.8,"y":-17.1},{"x":717.2,"y":-17.0},{"x":717.5,"y":-17.15},{"x":717.8,"y":-17.1},{"x":718.1,"y":-17.1},{"x":718.4,"y":-17.25},{"x":718.7,"y":-17.3},{"x":718.9,"y":-17.0},{"x":717.1,"y":-17.7},{"x":717.6,"y":-17.65},{"x":718.3,"y":-17.8},{"x":718.6,"y":-17.9},{"x":719.1,"y":-18.6},{"x":718.5,"y":-19.4},{"x":715.0,"y":-16.2},{"x":715.6,"y":-16.25},{"x":715.9,"y":-16.8},{"x":715.3,"y":-17.0},{"x":714.7,"y":-16.8},{"x":716.0,"y":-17.7},{"x":715.4,"y":-18.2},{"x":714.9,"y":-18.0},{"x":715.8,"y":-18.8},{"x":715.0,"y":-19.8},{"x":716.55,"y":-16.6},{"x":716.75,"y":-16.65},{"x":716.95,"y":-16.2},{"x":717.15,"y":-16.55},{"x":717.35,"y":-16.45},{"x":717.45,"y":-16.75},{"x":717.65,"y":-16.1},{"x":717.85,"y":-16.7},{"x":718.05,"y":-16.45},{"x":718.25,"y":-16.15},{"x":718.45,"y":-16.55},{"x":718.65,"y":-16.95},{"x":718.85,"y":-16.2},{"x":719.05,"y":-16.75},{"x":719.15,"y":-17.0},{"x":716.65,"y":-17.55},{"x":716.95,"y":-17.6},{"x":717.25,"y":-17.55},{"x":717.55,"y":-17.9},{"x":717.85,"y":-17.75},{"x":718.15,"y":-17.9},{"x":718.45,"y":-17.65},{"x":718.75,"y":-18.0},{"x":719.05,"y":-17.85},{"x":717.0,"y":-18.4},{"x":717.45,"y":-18.35},{"x":717.85,"y":-18.55},{"x":718.55,"y":-18.25},{"x":718.85,"y":-18.8},{"x":718.1,"y":-19.3},{"x":714.65,"y":-16.1},{"x":715.35,"y":-16.05},{"x":716.2,"y":-16.55},{"x":715.25,"y":-16.45},{"x":714.55,"y":-16.6},{"x":715.65,"y":-16.85},{"x":716.25,"y":-17.2},{"x":714.45,"y":-17.25},{"x":715.15,"y":-17.45},{"x":715.75,"y":-17.5},{"x":714.85,"y":-18.25},{"x":715.55,"y":-18.35},{"x":716.15,"y":-18.5},{"x":714.4,"y":-19.5},{"x":715.3,"y":-19.4}],
 "B2": [{"x":825.1,"y":-16.0},{"x":825.3,"y":-15.9},{"x":825.6,"y":-15.95},{"x":825.8,"y":-16.0},{"x":825.9,"y":-16.1},{"x":825.2,"y":-16.2},{"x":825.4,"y":-16.3},{"x":825.7,"y":-16.2},{"x":826.0,"y":-16.3},{"x":824.95,"y":-16.4},{"x":824.9,"y":-16.6},{"x":825.1,"y":-16.7},{"x":825.3,"y":-16.5},{"x":825.5,"y":-16.6},{"x":825.7,"y":-16.8},{"x":825.9,"y":-16.6},{"x":826.1,"y":-16.7},{"x":826.2,"y":-16.9},{"x":824.8,"y":-17.0},{"x":825.0,"y":-17.2},{"x":825.2,"y":-17.0},{"x":825.4,"y":-17.3},{"x":825.6,"y":-17.1},{"x":825.8,"y":-17.3},{"x":826.0,"y":-17.1},{"x":826.15,"y":-17.4},{"x":824.85,"y":-17.6},{"x":825.05,"y":-17.8},{"x":825.3,"y":-17.6},{"x":825.5,"y":-17.9},{"x":825.7,"y":-17.7},{"x":825.9,"y":-17.9},{"x":826.1,"y":-17.8},{"x":826.25,"y":-18.0},{"x":824.7,"y":-18.2},{"x":824.9,"y":-18.4},{"x":825.1,"y":-18.3},{"x":825.35,"y":-18.5},{"x":825.6,"y":-18.3},{"x":825.8,"y":-18.6},{"x":826.0,"y":-18.4},{"x":826.2,"y":-18.3},{"x":824.75,"y":-18.9},{"x":825.0,"y":-19.1},{"x":825.2,"y":-18.8},{"x":825.45,"y":-19.2},{"x":825.7,"y":-19.0},{"x":825.9,"y":-19.3},{"x":826.3,"y":-19.5},{"x":826.3,"y":-19.8},{"x":824.65,"y":-19.6},{"x":824.9,"y":-19.9},{"x":825.15,"y":-19.7},{"x":825.4,"y":-20.0},{"x":825.65,"y":-19.8},{"x":825.85,"y":-20.2},{"x":824.45,"y":-20.4},{"x":824.45,"y":-20.8},{"x":824.8,"y":-20.6},{"x":825.0,"y":-20.9},{"x":825.3,"y":-20.5},{"x":825.55,"y":-20.9},{"x":825.9,"y":-20.7},{"x":824.7,"y":-21.3},{"x":824.9,"y":-21.6},{"x":825.1,"y":-21.4},{"x":825.85,"y":-21.5},{"x":824.7,"y":-21.9},{"x":824.95,"y":-22.25},{"x":825.3,"y":-22.1},{"x":825.5,"y":-22.2},{"x":824.55,"y":-23.1},{"x":825.0,"y":-16.5},{"x":825.6,"y":-16.45},{"x":825.3,"y":-16.9},{"x":825.8,"y":-17.5},{"x":825.2,"y":-17.45},{"x":825.45,"y":-18.05},{"x":825.05,"y":-18.6},{"x":825.15,"y":-16.3},{"x":825.5,"y":-16.15},{"x":825.75,"y":-16.5},{"x":826.05,"y":-16.5},{"x":824.9,"y":-16.9},{"x":825.15,"y":-16.95},{"x":825.55,"y":-16.85},{"x":825.95,"y":-17.0},{"x":826.2,"y":-17.2},{"x":824.95,"y":-17.4},{"x":825.4,"y":-17.65},{"x":825.65,"y":-17.35},{"x":826.0,"y":-17.6},{"x":824.8,"y":-17.9},{"x":825.2,"y":-18.0},{"x":825.75,"y":-18.15},{"x":826.1,"y":-18.1},{"x":824.85,"y":-18.7},{"x":825.3,"y":-18.9},{"x":825.55,"y":-18.6},{"x":826.05,"y":-18.9},{"x":825.1,"y":-19.4},{"x":825.6,"y":-19.5},{"x":825.25,"y":-16.1},{"x":825.45,"y":-16.05},{"x":825.7,"y":-16.05},{"x":825.85,"y":-16.35},{"x":825.05,"y":-16.6},{"x":825.35,"y":-16.7},{"x":825.65,"y":-16.65},{"x":825.95,"y":-16.8},{"x":826.15,"y":-16.55},{"x":824.85,"y":-17.25},{"x":825.1,"y":-17.1},{"x":825.5,"y":-17.2},{"x":825.75,"y":-17.05},{"x":826.1,"y":-17.35},{"x":824.95,"y":-17.7},{"x":825.35,"y":-17.85},{"x":825.6,"y":-17.6},{"x":825.95,"y":-17.75},{"x":824.75,"y":-18.45},{"x":825.0,"y":-18.2},{"x":825.5,"y":-18.4},{"x":825.9,"y":-18.2},{"x":826.15,"y":-18.6},{"x":824.6,"y":-19.2},{"x":825.75,"y":-19.3}],
 "B3": [{"x":209.37,"y":-15.9},{"x":209.40,"y":-15.95},{"x":209.43,"y":-15.9},{"x":209.46,"y":-16.0},{"x":209.38,"y":-16.1},{"x":209.41,"y":-16.2},{"x":209.44,"y":-16.15},{"x":209.47,"y":-16.3},{"x":209.36,"y":-16.4},{"x":209.39,"y":-16.5},{"x":209.42,"y":-16.45},{"x":209.45,"y":-16.6},{"x":209.37,"y":-16.7},{"x":209.40,"y":-16.8},{"x":209.43,"y":-16.75},{"x":209.46,"y":-16.9},{"x":209.36,"y":-17.0},{"x":209.39,"y":-17.1},{"x":209.42,"y":-17.05},{"x":209.45,"y":-17.2},{"x":209.48,"y":-17.1},{"x":209.37,"y":-17.3},{"x":209.40,"y":-17.4},{"x":209.43,"y":-17.35},{"x":209.46,"y":-17.5},{"x":209.49,"y":-17.4},{"x":209.38,"y":-17.6},{"x":209.41,"y":-17.7},{"x":209.44,"y":-17.65},{"x":209.47,"y":-17.8},{"x":209.50,"y":-17.7},{"x":209.39,"y":-17.9},{"x":209.42,"y":-18.0},{"x":209.45,"y":-18.1},{"x":209.48,"y":-18.0},{"x":209.36,"y":-18.2},{"x":209.40,"y":-18.3},{"x":209.46,"y":-18.4},{"x":209.49,"y":-18.6},{"x":209.44,"y":-18.8},{"x":209.47,"y":-19.0},{"x":209.50,"y":-19.2},{"x":209.45,"y":-19.4},{"x":209.48,"y":-19.6},{"x":209.51,"y":-18.3},{"x":209.33,"y":-17.6},{"x":209.31,"y":-17.8},{"x":209.34,"y":-18.0},{"x":209.32,"y":-18.2},{"x":209.30,"y":-18.4},{"x":209.33,"y":-18.6},{"x":209.31,"y":-18.8},{"x":209.34,"y":-19.0},{"x":209.30,"y":-19.2},{"x":209.32,"y":-19.5},{"x":209.29,"y":-19.8},{"x":209.27,"y":-18.9},{"x":209.27,"y":-19.2},{"x":209.26,"y":-19.5},{"x":209.27,"y":-19.8},{"x":209.26,"y":-20.2},{"x":209.27,"y":-20.6},{"x":209.26,"y":-20.9},{"x":209.24,"y":-21.1},{"x":209.23,"y":-21.4},{"x":209.24,"y":-21.7},{"x":209.23,"y":-22.0},{"x":209.24,"y":-22.3},{"x":209.32,"y":-20.5},{"x":209.40,"y":-19.7},{"x":209.41,"y":-20.0},{"x":209.42,"y":-20.4},{"x":209.44,"y":-21.5},{"x":209.45,"y":-21.6},{"x":209.55,"y":-19.8},{"x":209.55,"y":-20.2},{"x":209.55,"y":-20.6},{"x":209.39,"y":-23.15},{"x":209.38,"y":-19.6},{"x":209.36,"y":-18.6},{"x":209.365,"y":-16.0},{"x":209.395,"y":-16.05},{"x":209.425,"y":-16.1},{"x":209.455,"y":-16.2},{"x":209.385,"y":-16.3},{"x":209.415,"y":-16.35},{"x":209.445,"y":-16.4},{"x":209.365,"y":-16.55},{"x":209.395,"y":-16.6},{"x":209.425,"y":-16.65},{"x":209.455,"y":-16.7},{"x":209.38,"y":-16.85},{"x":209.41,"y":-16.9},{"x":209.44,"y":-16.95},{"x":209.47,"y":-17.0},{"x":209.365,"y":-17.15},{"x":209.395,"y":-17.2},{"x":209.425,"y":-17.25},{"x":209.455,"y":-17.3},{"x":209.485,"y":-17.25},{"x":209.38,"y":-17.45},{"x":209.41,"y":-17.5},{"x":209.44,"y":-17.55},{"x":209.47,"y":-17.6},{"x":209.4,"y":-17.8},{"x":209.43,"y":-17.85},{"x":209.46,"y":-17.95},{"x":209.415,"y":-18.15},{"x":209.445,"y":-18.25},{"x":209.475,"y":-18.2},{"x":209.49,"y":-18.45},{"x":209.47,"y":-18.7},{"x":209.5,"y":-18.9},{"x":209.46,"y":-19.2}],
 "B4": [{"x":-0.355,"y":-16.6},{"x":-0.355,"y":-16.8},{"x":-0.355,"y":-17.0},{"x":-0.355,"y":-17.2},{"x":-0.355,"y":-17.8},{"x":-0.355,"y":-18.0},{"x":-0.355,"y":-18.2},{"x":-0.355,"y":-18.4},{"x":-0.355,"y":-18.6},{"x":-0.332,"y":-16.4},{"x":-0.332,"y":-16.7},{"x":-0.332,"y":-16.9},{"x":-0.332,"y":-17.2},{"x":-0.332,"y":-17.5},{"x":-0.332,"y":-17.9},{"x":-0.332,"y":-18.3},{"x":-0.315,"y":-16.2},{"x":-0.315,"y":-16.5},{"x":-0.315,"y":-16.8},{"x":-0.315,"y":-17.1},{"x":-0.315,"y":-17.4},{"x":-0.315,"y":-17.7},{"x":-0.315,"y":-18.0},{"x":-0.315,"y":-18.3},{"x":-0.315,"y":-18.6},{"x":-0.305,"y":-18.9},{"x":-0.305,"y":-19.2},{"x":-0.305,"y":-19.5},{"x":-0.305,"y":-19.8},{"x":-0.29,"y":-15.9},{"x":-0.29,"y":-16.2},{"x":-0.29,"y":-16.5},{"x":-0.29,"y":-16.8},{"x":-0.29,"y":-17.1},{"x":-0.29,"y":-17.4},{"x":-0.29,"y":-17.7},{"x":-0.29,"y":-18.0},{"x":-0.275,"y":-15.85},{"x":-0.275,"y":-16.1},{"x":-0.275,"y":-16.4},{"x":-0.275,"y":-16.7},{"x":-0.275,"y":-17.0},{"x":-0.275,"y":-17.3},{"x":-0.255,"y":-15.9},{"x":-0.255,"y":-16.1},{"x":-0.255,"y":-16.3},{"x":-0.255,"y":-16.5},{"x":-0.255,"y":-16.7},{"x":-0.255,"y":-16.9},{"x":-0.255,"y":-17.1},{"x":-0.255,"y":-17.3},{"x":-0.255,"y":-17.5},{"x":-0.255,"y":-17.7},{"x":-0.255,"y":-17.9},{"x":-0.255,"y":-18.1},{"x":-0.255,"y":-18.3},{"x":-0.255,"y":-18.5},{"x":-0.255,"y":-18.7},{"x":-0.255,"y":-18.9},{"x":-0.255,"y":-19.1},{"x":-0.255,"y":-19.3},{"x":-0.255,"y":-19.5},{"x":-0.255,"y":-19.7},{"x":-0.255,"y":-19.9},{"x":-0.255,"y":-20.1},{"x":-0.255,"y":-20.4},{"x":-0.255,"y":-21.45},{"x":-0.245,"y":-16.0},{"x":-0.245,"y":-16.3},{"x":-0.245,"y":-16.6},{"x":-0.245,"y":-16.9},{"x":-0.245,"y":-17.2},{"x":-0.245,"y":-17.5},{"x":-0.245,"y":-17.8},{"x":-0.245,"y":-18.1},{"x":-0.245,"y":-18.4},{"x":-0.245,"y":-18.7},{"x":-0.245,"y":-19.0},{"x":-0.245,"y":-19.3},{"x":-0.245,"y":-19.6},{"x":-0.245,"y":-19.9},{"x":-0.232,"y":-15.9},{"x":-0.232,"y":-16.2},{"x":-0.232,"y":-16.5},{"x":-0.232,"y":-16.8},{"x":-0.232,"y":-17.1},{"x":-0.232,"y":-17.4},{"x":-0.232,"y":-17.7},{"x":-0.232,"y":-18.0},{"x":-0.232,"y":-18.3},{"x":-0.232,"y":-18.6},{"x":-0.232,"y":-18.9},{"x":-0.232,"y":-19.2},{"x":-0.232,"y":-19.5},{"x":-0.232,"y":-19.8},{"x":-0.232,"y":-20.1},{"x":-0.22,"y":-15.9},{"x":-0.22,"y":-16.3},{"x":-0.22,"y":-16.7},{"x":-0.22,"y":-17.1},{"x":-0.22,"y":-17.5},{"x":-0.22,"y":-17.9},{"x":-0.22,"y":-18.3},{"x":-0.22,"y":-18.7},{"x":-0.22,"y":-19.1},{"x":-0.22,"y":-19.5},{"x":-0.22,"y":-19.9},{"x":-0.22,"y":-20.9},{"x":-0.22,"y":-23.15},{"x":-0.21,"y":-16.0},{"x":-0.21,"y":-16.4},{"x":-0.21,"y":-16.8},{"x":-0.21,"y":-17.2},{"x":-0.21,"y":-17.6},{"x":-0.21,"y":-18.0},{"x":-0.21,"y":-18.4},{"x":-0.21,"y":-18.8},{"x":-0.21,"y":-19.2},{"x":-0.21,"y":-19.6},{"x":-0.21,"y":-20.0},{"x":-0.21,"y":-20.3},{"x":-0.21,"y":-21.6},{"x":-0.203,"y":-16.1},{"x":-0.203,"y":-16.6},{"x":-0.203,"y":-17.1},{"x":-0.203,"y":-17.6},{"x":-0.203,"y":-18.1},{"x":-0.203,"y":-18.6},{"x":-0.203,"y":-19.1},{"x":-0.203,"y":-19.6},{"x":-0.172,"y":-16.4},{"x":-0.172,"y":-16.9},{"x":-0.172,"y":-17.4},{"x":-0.172,"y":-18.5},{"x":-0.172,"y":-19.2},{"x":-0.172,"y":-20.2},{"x":-0.172,"y":-20.5},{"x":-0.172,"y":-20.9},{"x":-0.172,"y":-21.2},{"x":-0.172,"y":-21.5},{"x":-0.172,"y":-22.0},{"x":-0.172,"y":-22.3},{"x":-0.148,"y":-18.2},{"x":-0.148,"y":-18.6},{"x":-0.148,"y":-19.0},{"x":-0.148,"y":-19.4},{"x":-0.148,"y":-20.4},{"x":-0.148,"y":-21.0},{"x":-0.148,"y":-21.5}],
 "B5": [{"x":0.068,"y":-18.7},{"x":0.068,"y":-19.0},{"x":0.068,"y":-19.2},{"x":0.068,"y":-19.5},{"x":0.068,"y":-19.8},{"x":0.068,"y":-23.16},{"x":0.154,"y":-17.0},{"x":0.154,"y":-17.3},{"x":0.154,"y":-17.6},{"x":0.17,"y":-16.2},{"x":0.17,"y":-16.5},{"x":0.17,"y":-16.8},{"x":0.17,"y":-17.1},{"x":0.17,"y":-17.4},{"x":0.17,"y":-17.7},{"x":0.17,"y":-18.0},{"x":0.17,"y":-18.3},{"x":0.17,"y":-18.6},{"x":0.17,"y":-18.9},{"x":0.17,"y":-19.2},{"x":0.17,"y":-19.5},{"x":0.17,"y":-19.8},{"x":0.17,"y":-20.1},{"x":0.17,"y":-20.4},{"x":0.17,"y":-20.7},{"x":0.17,"y":-21.0},{"x":0.17,"y":-21.3},{"x":0.17,"y":-21.6},{"x":0.17,"y":-21.9},{"x":0.17,"y":-22.2},{"x":0.195,"y":-16.6},{"x":0.195,"y":-16.9},{"x":0.195,"y":-17.2},{"x":0.195,"y":-17.5},{"x":0.195,"y":-21.5},{"x":0.211,"y":-16.4},{"x":0.211,"y":-16.7},{"x":0.211,"y":-17.0},{"x":0.211,"y":-17.3},{"x":0.228,"y":-16.5},{"x":0.228,"y":-16.8},{"x":0.228,"y":-17.0},{"x":0.228,"y":-20.76},{"x":0.24,"y":-16.3},{"x":0.24,"y":-16.6},{"x":0.24,"y":-16.9},{"x":0.24,"y":-17.2},{"x":0.24,"y":-17.5},{"x":0.24,"y":-17.8},{"x":0.25,"y":-16.2},{"x":0.25,"y":-16.5},{"x":0.25,"y":-16.8},{"x":0.25,"y":-17.1},{"x":0.25,"y":-17.4},{"x":0.25,"y":-17.7},{"x":0.25,"y":-18.0},{"x":0.25,"y":-18.3},{"x":0.25,"y":-18.6},{"x":0.25,"y":-18.9},{"x":0.25,"y":-19.2},{"x":0.26,"y":-16.0},{"x":0.26,"y":-16.3},{"x":0.26,"y":-16.6},{"x":0.26,"y":-16.9},{"x":0.26,"y":-17.2},{"x":0.26,"y":-17.5},{"x":0.26,"y":-17.8},{"x":0.26,"y":-18.1},{"x":0.26,"y":-18.4},{"x":0.26,"y":-18.7},{"x":0.26,"y":-19.0},{"x":0.26,"y":-19.3},{"x":0.26,"y":-19.6},{"x":0.26,"y":-19.9},{"x":0.27,"y":-15.9},{"x":0.27,"y":-16.2},{"x":0.27,"y":-16.5},{"x":0.27,"y":-16.8},{"x":0.27,"y":-17.1},{"x":0.27,"y":-17.4},{"x":0.27,"y":-17.7},{"x":0.27,"y":-18.0},{"x":0.27,"y":-18.3},{"x":0.27,"y":-18.6},{"x":0.27,"y":-18.9},{"x":0.27,"y":-19.2},{"x":0.27,"y":-19.5},{"x":0.27,"y":-19.8},{"x":0.27,"y":-20.2},{"x":0.28,"y":-15.9},{"x":0.28,"y":-16.1},{"x":0.28,"y":-16.4},{"x":0.28,"y":-16.7},{"x":0.28,"y":-17.0},{"x":0.28,"y":-17.3},{"x":0.28,"y":-17.6},{"x":0.28,"y":-17.9},{"x":0.28,"y":-18.2},{"x":0.28,"y":-18.5},{"x":0.28,"y":-18.8},{"x":0.28,"y":-19.1},{"x":0.28,"y":-19.4},{"x":0.28,"y":-19.7},{"x":0.28,"y":-20.0},{"x":0.28,"y":-20.4},{"x":0.29,"y":-15.85},{"x":0.29,"y":-16.2},{"x":0.29,"y":-16.5},{"x":0.29,"y":-16.8},{"x":0.29,"y":-17.1},{"x":0.29,"y":-17.4},{"x":0.29,"y":-17.8},{"x":0.29,"y":-18.2},{"x":0.29,"y":-18.6},{"x":0.29,"y":-19.0},{"x":0.30,"y":-15.9},{"x":0.30,"y":-16.2},{"x":0.30,"y":-16.5},{"x":0.30,"y":-16.8},{"x":0.30,"y":-17.2},{"x":0.30,"y":-17.6},{"x":0.30,"y":-18.0},{"x":0.30,"y":-20.8},{"x":0.31,"y":-15.85},{"x":0.31,"y":-16.1},{"x":0.31,"y":-16.4},{"x":0.31,"y":-16.7},{"x":0.31,"y":-21.4},{"x":0.32,"y":-15.9},{"x":0.32,"y":-16.2},{"x":0.32,"y":-16.5},{"x":0.32,"y":-17.0},{"x":0.336,"y":-15.9},{"x":0.336,"y":-16.1},{"x":0.336,"y":-16.4},{"x":0.336,"y":-16.7},{"x":0.336,"y":-17.0},{"x":0.336,"y":-17.3},{"x":0.336,"y":-17.6},{"x":0.336,"y":-17.9},{"x":0.336,"y":-18.2},{"x":0.336,"y":-18.5},{"x":0.336,"y":-18.8},{"x":0.336,"y":-19.1},{"x":0.336,"y":-19.4},{"x":0.349,"y":-16.4},{"x":0.349,"y":-16.7},{"x":0.349,"y":-17.0},{"x":0.349,"y":-17.3},{"x":0.365,"y":-16.3},{"x":0.365,"y":-16.6},{"x":0.365,"y":-16.9},{"x":0.365,"y":-17.2},{"x":0.365,"y":-17.5},{"x":0.365,"y":-17.8},{"x":0.365,"y":-18.1},{"x":0.383,"y":-16.0},{"x":0.383,"y":-16.3},{"x":0.383,"y":-16.6},{"x":0.383,"y":-16.9},{"x":0.383,"y":-17.8},{"x":0.383,"y":-18.1},{"x":0.383,"y":-18.4},{"x":0.383,"y":-18.7},{"x":0.406,"y":-16.1},{"x":0.406,"y":-16.3},{"x":0.406,"y":-16.5},{"x":0.427,"y":-16.4},{"x":0.427,"y":-16.7},{"x":0.427,"y":-17.0},{"x":0.427,"y":-17.3},{"x":0.427,"y":-17.6},{"x":0.427,"y":-17.9},{"x":0.427,"y":-18.2},{"x":0.427,"y":-18.5},{"x":0.427,"y":-18.8},{"x":0.427,"y":-19.1},{"x":0.427,"y":-19.4},{"x":0.427,"y":-19.7},{"x":0.427,"y":-20.0},{"x":0.427,"y":-20.4},{"x":0.427,"y":-20.8},{"x":0.427,"y":-21.2},{"x":0.427,"y":-21.6}],
 "B6": [{"x":0,"y":-15.8},{"x":0,"y":-15.9},{"x":0,"y":-16.0},{"x":0,"y":-16.1},{"x":0,"y":-16.2},{"x":0,"y":-16.3},{"x":0,"y":-16.4},{"x":0,"y":-16.5},{"x":0,"y":-16.6},{"x":0,"y":-16.7},{"x":0,"y":-16.8},{"x":0,"y":-16.9},{"x":0,"y":-17.0},{"x":0,"y":-17.1},{"x":0,"y":-17.2},{"x":0,"y":-17.3},{"x":0,"y":-17.4},{"x":0,"y":-17.5},{"x":0,"y":-17.6},{"x":0,"y":-17.7},{"x":0,"y":-17.8},{"x":0,"y":-17.9},{"x":0,"y":-18.0},{"x":0,"y":-18.1},{"x":0,"y":-18.2},{"x":0,"y":-18.3},{"x":0,"y":-18.4},{"x":0,"y":-18.5},{"x":0,"y":-18.6},{"x":0,"y":-18.7},{"x":0,"y":-18.8},{"x":0,"y":-18.9},{"x":0,"y":-19.0},{"x":0,"y":-19.1},{"x":0,"y":-19.2},{"x":0,"y":-19.3},{"x":0,"y":-19.4},{"x":0,"y":-19.5},{"x":0,"y":-19.6},{"x":0,"y":-19.7},{"x":0,"y":-19.8},{"x":0,"y":-19.9},{"x":0,"y":-20.0},{"x":0,"y":-20.1},{"x":0,"y":-20.2},{"x":0,"y":-20.3},{"x":0,"y":-20.45},{"x":0,"y":-20.8},{"x":0,"y":-21.1},{"x":0,"y":-21.5},{"x":0,"y":-22.0},{"x":0,"y":-22.3},{"x":0,"y":-23.16}],
 "best": [{"p":"T1","x":714.4,"y":-25},{"p":"T2","x":825.3,"y":-25},{"p":"T3","x":209.6,"y":-25},{"p":"T4","x":-0.26,"y":-20},{"p":"T5","x":0.14,"y":-20},{"p":"T6","x":0,"y":-20},{"p":"B1","x":717.3,"y":-15.75},{"p":"B2","x":825.47,"y":-15.76},{"p":"B3","x":209.41,"y":-15.76},{"p":"B4","x":-0.261,"y":-15.71},{"p":"B5","x":0.336,"y":-15.71},{"p":"B6","x":0,"y":-15.75}]
},
"config": {
 "view": {"stroke": "#888888", "strokeWidth": 1},
 "axis": {"grid": false, "domain": false, "ticks": true, "tickColor": "#888888", "tickWidth": 1, "labelColor": "#000000", "titleColor": "#000000", "labelFont": "Liberation Sans", "titleFont": "Liberation Sans", "titleFontWeight": "normal", "labelOverlap": false, "labelFlush": false, "labelBound": false},
 "title": {"font": "Liberation Sans", "fontSize": 13, "fontWeight": "normal", "color": "#000000"}
}
}
